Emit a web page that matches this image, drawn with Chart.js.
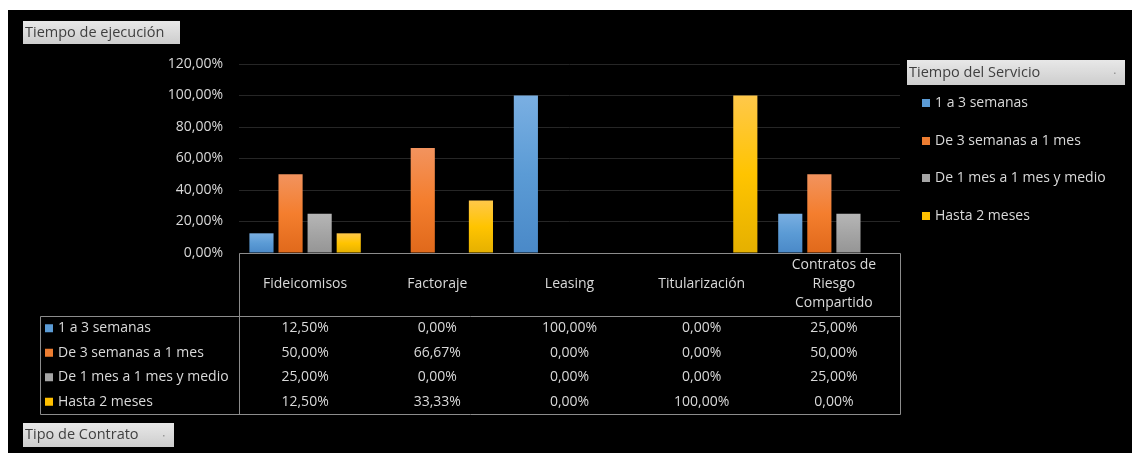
<!DOCTYPE html>
<html lang="es">
<head>
  <meta charset="UTF-8">
  <title>Tiempo de ejecución por Tipo de Contrato</title>
  <script src="https://cdn.jsdelivr.net/npm/chart.js"></script>
  <style>
    body {
      margin: 0;
      background: #ffffff;
      font-family: 'Open Sans', sans-serif;
    }
    .frame {
      position: absolute;
      left: 8px;
      top: 10px;
      width: 1124px;
      height: 443px;
      background: #000000;
    }
  </style>
</head>
<body>
  <div class="frame">
    <canvas id="chart" width="1124" height="443"></canvas>
  </div>

<script>
// data
const categories = ['Fideicomisos', 'Factoraje', 'Leasing', 'Titularización', ['Contratos de', 'Riesgo', 'Compartido']];
const seriesNames = ['1 a 3 semanas', 'De 3 semanas a 1 mes', 'De 1 mes a 1 mes y medio', 'Hasta 2 meses'];
const unoATres = [0.125, 0, 1, 0, 0.25];
const tresSemAUnMes = [0.5, 0.6667, 0, 0, 0.5];
const unMesYMedio = [0.25, 0, 0, 0, 0.25];
const hastaDosMeses = [0.125, 0.3333, 0, 1, 0];
const yMin = 0, yMax = 1.2, yStep = 0.2;

const baseColors = ['#5b9bd5', '#ed7d31', '#a5a5a5', '#ffc000'];
const gradStops = [
  ['#7aafe2', '#5b9bd5', '#4a89c8'],
  ['#f2935e', '#f47e2e', '#e0691b'],
  ['#b6b6b6', '#a5a5a5', '#959595'],
  ['#ffc84a', '#ffc400', '#e5b000']
];

const fmt = v => (v * 100).toFixed(2).replace('.', ',') + '%';
const FONT = "14px 'Open Sans', sans-serif";
const TXT = '#d9d9d9';
const LINE = '#8c8c8c';

function barFill(i) {
  return function (c) {
    const chart = c.chart;
    if (!chart.chartArea || c.raw === undefined) return baseColors[i];
    const y = chart.scales.y;
    const top = y.getPixelForValue(c.raw), bot = y.getPixelForValue(0);
    if (bot - top < 1) return baseColors[i];
    const g = chart.ctx.createLinearGradient(0, top, 0, bot);
    g.addColorStop(0, gradStops[i][0]);
    g.addColorStop(0.5, gradStops[i][1]);
    g.addColorStop(1, gradStops[i][2]);
    return g;
  };
}

function button(ctx, x, y, w, h, text, dot) {
  const g = ctx.createLinearGradient(0, y, 0, y + h);
  g.addColorStop(0, '#e8e8e8');
  g.addColorStop(1, '#cdcdcd');
  ctx.fillStyle = g;
  ctx.fillRect(x, y, w, h);
  ctx.fillStyle = '#3f3f3f';
  ctx.font = "14.5px 'Open Sans', sans-serif";
  ctx.textAlign = 'left';
  ctx.textBaseline = 'middle';
  ctx.fillText(text, x + 2, y + h / 2);
  if (dot) {
    ctx.fillStyle = '#9a9a9a';
    ctx.fillRect(x + w - 11, y + h / 2, 1.5, 1.5);
  }
}

const extras = {
  id: 'extras',
  afterDraw(chart) {
    const ctx = chart.ctx, a = chart.chartArea, xs = chart.scales.x;
    const data = chart.data.datasets;
    const labelLeft = 32, headTop = a.bottom, headBottom = 306, tableBottom = 404;
    const rowH = (tableBottom - headBottom) / data.length;
    ctx.save();

    // table lines
    ctx.strokeStyle = LINE;
    ctx.lineWidth = 1;
    ctx.beginPath();
    ctx.moveTo(a.left + 0.5, headTop + 0.5); ctx.lineTo(a.right + 0.5, headTop + 0.5);
    ctx.moveTo(labelLeft + 0.5, headBottom + 0.5); ctx.lineTo(a.right + 0.5, headBottom + 0.5);
    ctx.moveTo(labelLeft + 0.5, tableBottom + 0.5); ctx.lineTo(a.right + 0.5, tableBottom + 0.5);
    ctx.moveTo(a.left + 0.5, headTop + 0.5); ctx.lineTo(a.left + 0.5, tableBottom + 0.5);
    ctx.moveTo(a.right + 0.5, headTop + 0.5); ctx.lineTo(a.right + 0.5, tableBottom + 0.5);
    ctx.moveTo(labelLeft + 0.5, headBottom + 0.5); ctx.lineTo(labelLeft + 0.5, tableBottom + 0.5);
    ctx.stroke();

    ctx.font = FONT;
    ctx.fillStyle = TXT;
    ctx.textBaseline = 'middle';
    ctx.textAlign = 'center';

    // category header
    chart.data.labels.forEach((lab, i) => {
      const lines = Array.isArray(lab) ? lab : [lab];
      const cx = xs.getPixelForValue(i);
      const mid = (headTop + headBottom) / 2;
      lines.forEach((ln, k) => {
        ctx.fillText(ln, cx, mid + (k - (lines.length - 1) / 2) * 19);
      });
    });

    // rows
    data.forEach((ds, r) => {
      const cy = headBottom + rowH * (r + 0.5);
      ctx.fillStyle = baseColors[r];
      ctx.fillRect(labelLeft + 5, cy - 4, 8, 8);
      ctx.fillStyle = TXT;
      ctx.textAlign = 'left';
      ctx.fillText(ds.label, labelLeft + 18, cy);
      ctx.textAlign = 'center';
      ds.data.forEach((v, i) => {
        ctx.fillText(fmt(v), xs.getPixelForValue(i), cy);
      });
    });

    // legend on the right
    button(ctx, 899, 50, 218, 25, 'Tiempo del Servicio', true);
    const legY = [93, 131, 168, 206];
    ctx.font = FONT;
    ctx.textBaseline = 'middle';
    data.forEach((ds, r) => {
      ctx.fillStyle = baseColors[r];
      ctx.fillRect(914, legY[r] - 4, 8, 8);
      ctx.fillStyle = TXT;
      ctx.textAlign = 'left';
      ctx.fillText(ds.label, 927, legY[r]);
    });

    // field buttons
    button(ctx, 15, 11, 157, 23, 'Tiempo de ejecución', false);
    button(ctx, 15, 413, 151, 24, 'Tipo de Contrato', true);
    ctx.restore();
  }
};

const series = [unoATres, tresSemAUnMes, unMesYMedio, hastaDosMeses];

new Chart(document.getElementById('chart').getContext('2d'), {
  type: 'bar',
  data: {
    labels: categories,
    datasets: series.map((s, i) => ({
      label: seriesNames[i],
      data: s,
      backgroundColor: barFill(i),
      borderWidth: 0,
      categoryPercentage: 0.88,
      barPercentage: 0.83
    }))
  },
  options: {
    responsive: false,
    animation: false,
    layout: { padding: { left: 0, right: 232, top: 54, bottom: 200 } },
    plugins: {
      legend: { display: false },
      tooltip: { enabled: false }
    },
    scales: {
      x: { display: false },
      y: {
        min: yMin,
        max: yMax,
        afterFit(scale) { scale.width = 231; },
        border: { display: false },
        grid: { color: '#262626', lineWidth: 1, drawTicks: false },
        ticks: {
          stepSize: yStep,
          padding: 16,
          color: TXT,
          font: { family: "'Open Sans', sans-serif", size: 14 },
          callback: v => fmt(v)
        }
      }
    }
  },
  plugins: [extras]
});
</script>
</body>
</html>
